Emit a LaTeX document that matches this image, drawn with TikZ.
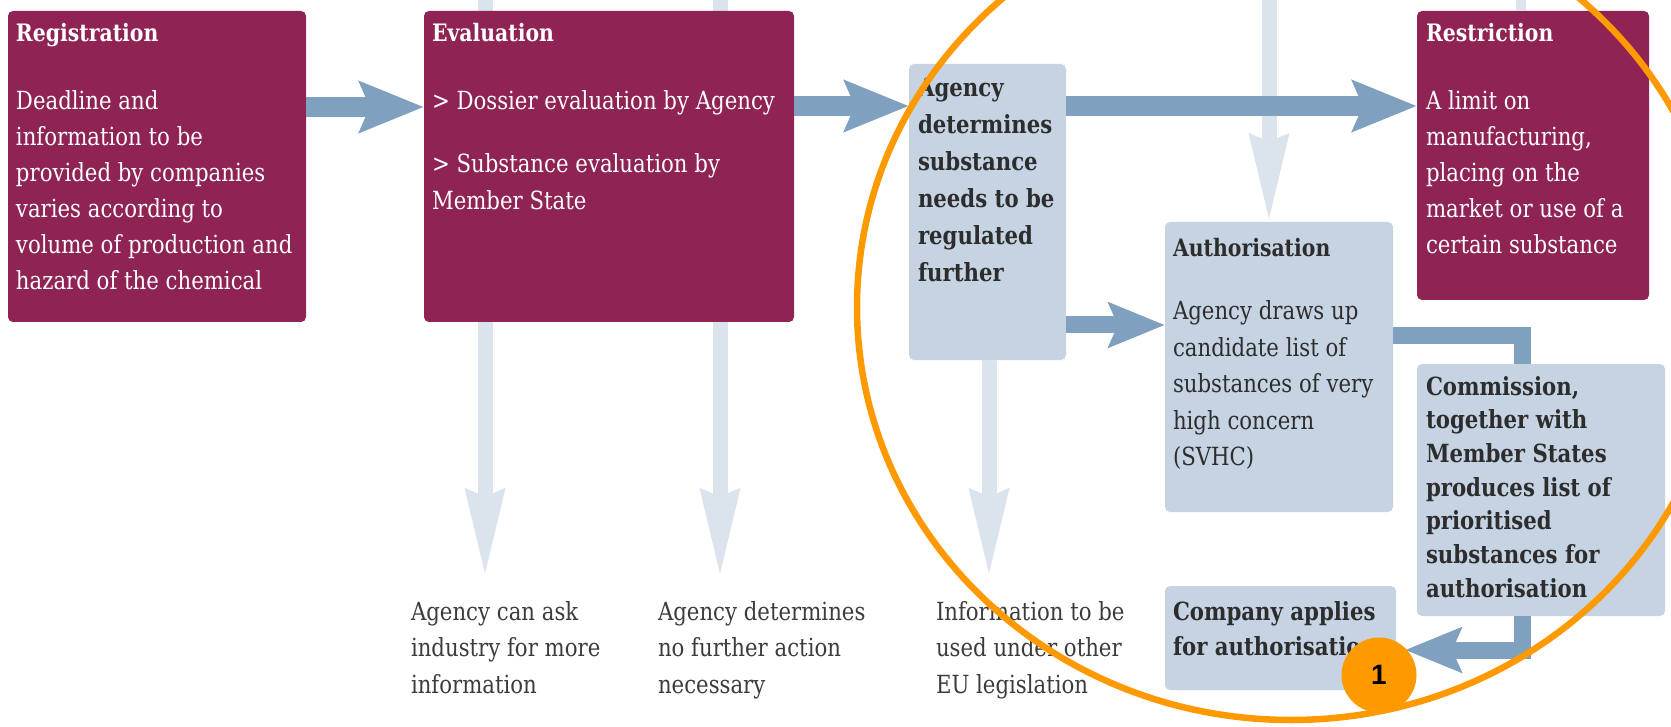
\documentclass[tikz,border=0pt]{standalone}
\usepackage{fontspec}
\setmainfont{DejaVu Serif}[FakeStretch=0.85]
\newfontfamily\badgefont{Liberation Sans}
\usetikzlibrary{arrows.meta}
\definecolor{maroonbox}{RGB}{142,35,84}
\definecolor{bluebox}{RGB}{198,211,227}
\definecolor{darkarrow}{RGB}{127,160,190}
\definecolor{lightarrow}{RGB}{219,227,237}
\definecolor{ringorange}{RGB}{255,153,0}
\definecolor{darktext}{RGB}{45,45,45}
\definecolor{graytext}{RGB}{60,60,60}
\newcommand\mlines[1]{\begin{tabular}[t]{@{}l@{}}#1\end{tabular}}
\tikzset{
  boxbase/.style={draw=none, rounded corners=5pt, inner sep=0pt, outer sep=0pt, anchor=north west},
  mbox/.style={boxbase, fill=maroonbox},
  bbox/.style={boxbase, fill=bluebox},
  txt/.style={anchor=base west, inner sep=0pt, outer sep=0pt},
  wtitle/.style={txt, text=white, font=\fontsize{24}{30}\selectfont\bfseries},
  wbody/.style={txt, text=white, font=\fontsize{25}{36}\selectfont},
  dtitle/.style={txt, text=darktext, font=\fontsize{24}{30}\selectfont\bfseries},
  dbody/.style={txt, text=darktext, font=\fontsize{25}{36.5}\selectfont},
  dbold/.style={txt, text=darktext, font=\fontsize{25}{36}\selectfont\bfseries},
  glabel/.style={txt, text=graytext, font=\fontsize{25}{36.5}\selectfont},
  darr/.style={draw=darkarrow, line width=20pt, -{Stealth[length=64pt,width=50pt,inset=10pt]}},
  darrsmall/.style={draw=darkarrow, line width=17pt, -{Stealth[length=56pt,width=44pt,inset=9pt]}},
  dline/.style={draw=darkarrow, line width=17pt},
  larr/.style={draw=lightarrow, line width=15pt, -{Stealth[length=86pt,width=37pt,inset=6pt]}},
  lline/.style={draw=lightarrow, line width=10pt},
}
\begin{document}
\begin{tikzpicture}[x=1pt,y=-1pt]
\useasboundingbox (0,0) rectangle (1671,727);
\begin{scope}
\clip (0,0) rectangle (1671,727);
\fill[white] (0,0) rectangle (1671,727);

% light connector ends
\coordinate (l1t) at (485,0);   \coordinate (l1b) at (485,577);
\coordinate (l2t) at (720,0);   \coordinate (l2b) at (720,577);
\coordinate (l3b) at (989,577);
\coordinate (l4t) at (1269,0);
\coordinate (l5t) at (1521,0);

% light arrows (behind boxes)
\draw[larr] (l1t) -- (l1b);
\draw[larr] (l2t) -- (l2b);

% boxes
\node[mbox, minimum width=298pt, minimum height=311pt] (reg) at (8,11) {};
\node[mbox, minimum width=370pt, minimum height=311pt] (eval) at (424,11) {};
\node[bbox, minimum width=157pt, minimum height=296pt] (agency) at (909,64) {};
\node[mbox, minimum width=232pt, minimum height=289pt] (restr) at (1417,11) {};
\node[bbox, minimum width=228pt, minimum height=290pt] (auth) at (1165,222) {};
\node[bbox, minimum width=248pt, minimum height=252pt] (comm) at (1417,364) {};
\node[bbox, minimum width=231pt, minimum height=104pt] (comp) at (1165,586) {};

% light arrows attached to boxes
\coordinate (l3t) at (agency.south -| l3b);
\draw[larr] (l3t) -- (l3b);
\draw[larr] (l4t) -- (l4t |- auth.north);
\draw[lline] (l5t) -- (l5t |- restr.north);

% texts
\node[wtitle] (regtitle) at (16,42) {Registration};
\node[wbody] (regbody) at (16,110) {\mlines{Deadline and\\information to be\\provided by companies\\varies according to\\volume of production and\\hazard of the chemical}};

\node[wtitle] (evaltitle) at (432,42) {Evaluation};
\node[wbody] (evalone) at (432,110) {> Dossier evaluation by Agency};
\node[wbody, font=\fontsize{25}{37}\selectfont] (evaltwo) at (432,173) {\mlines{> Substance evaluation by\\Member State}};

\node[dbold, font=\fontsize{25}{37}\selectfont\bfseries] (agencytext) at (918,97) {\mlines{Agency\\determines\\substance\\needs to be\\regulated\\further}};

\node[wtitle] (restrtitle) at (1426,42) {Restriction};
\node[wbody] (restrbody) at (1426,110) {\mlines{A limit on\\manufacturing,\\placing on the\\market or use of a\\certain substance}};

\node[dtitle] (authtitle) at (1173,257) {Authorisation};
\node[dbody] (authbody) at (1173,320) {\mlines{Agency draws up\\candidate list of\\substances of very\\high concern\\(SVHC)}};

\node[dbold, font=\fontsize{25}{33.7}\selectfont\bfseries] (commtext) at (1426,395) {\mlines{Commission,\\together with\\Member States\\produces list of\\prioritised\\substances for\\authorisation}};

\node[dbold, font=\fontsize{25}{35}\selectfont\bfseries] (comptext) at (1173,620) {\mlines{Company applies\\for authorisation}};

\node[glabel] (labone) at (411,620) {\mlines{Agency can ask\\industry for more\\information}};
\node[glabel] (labtwo) at (658,620) {\mlines{Agency determines\\no further action\\necessary}};
\node[glabel] (labthree) at (936,620) {\mlines{Information to be\\used under other\\EU legislation}};

% dark arrows
\coordinate (a1s) at ([yshift=-96pt]reg.north east);
\draw[darr] (a1s) -- (a1s -| eval.west);
\coordinate (a2s) at ([yshift=-95pt]eval.north east);
\draw[darr] (a2s) -- (a2s -| agency.west);
\coordinate (a3s) at ([yshift=-42pt]agency.north east);
\draw[darr] (a3s) -- (a3s -| restr.west);
\coordinate (a4s) at ([yshift=-261pt]agency.north east);
\draw[darrsmall] (a4s) -- (a4s -| auth.west);
\coordinate (c5s) at ([yshift=-114pt]auth.north east);
\coordinate (c5e) at ([xshift=105pt]comm.north west);
\draw[dline] (c5s) -| (c5e);
\coordinate (c6s) at ([xshift=105pt]comm.south west);
\coordinate (c6e) at ([xshift=9pt,yshift=-64pt]comp.north east);
\draw[darrsmall] (c6s) |- (c6e);

% orange highlight
\draw[ringorange, line width=6.5pt] (1291,307) ellipse [x radius=434pt, y radius=413pt];
\node[circle, fill=ringorange, minimum size=75pt, inner sep=0pt, font=\badgefont\bfseries\fontsize{28}{28}\selectfont, text=black] (badge) at (1379,675) {1};
\end{scope}
\end{tikzpicture}
\end{document}
